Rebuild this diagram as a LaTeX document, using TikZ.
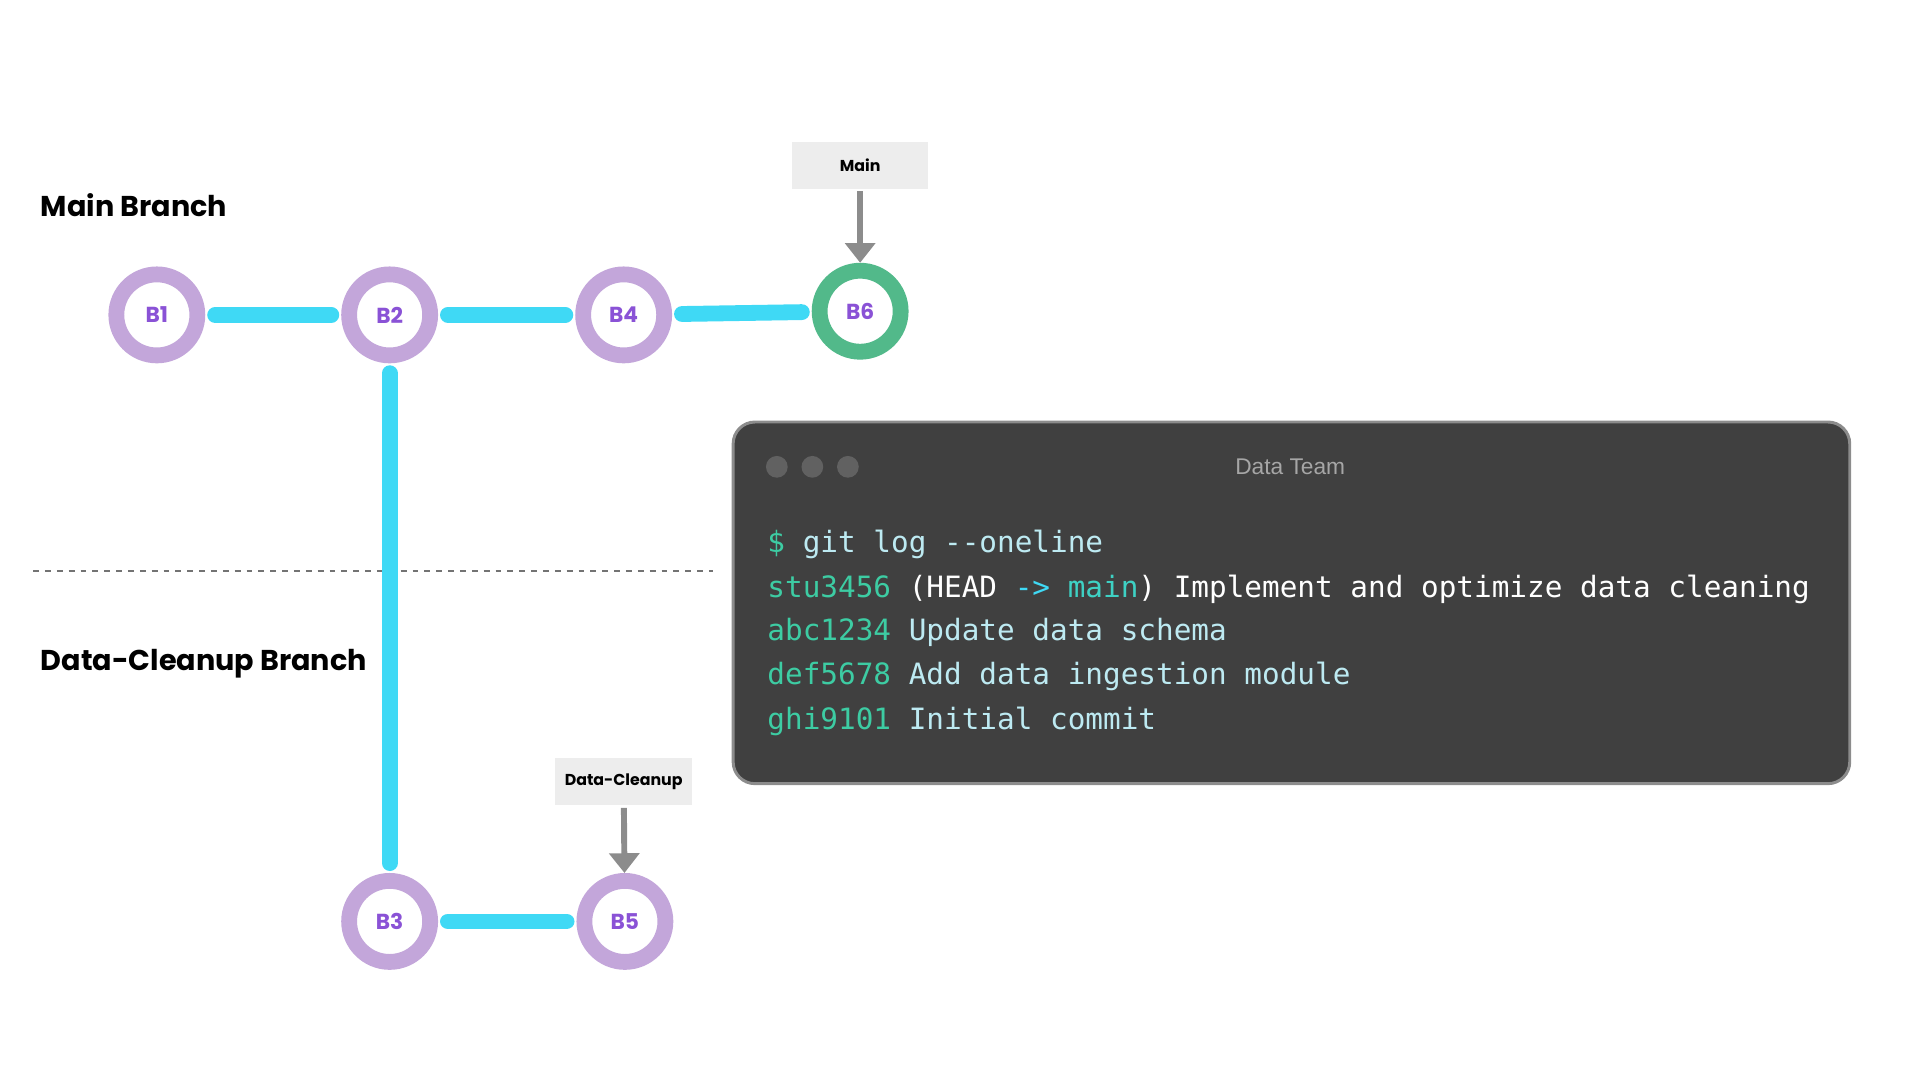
\documentclass[tikz,border=0pt]{standalone}
\usepackage{fontspec}
\setmainfont{Poppins}
\setsansfont{Liberation Sans}
\setmonofont{DejaVu Sans Mono}
\usetikzlibrary{arrows.meta}
\definecolor{ring}{HTML}{C3A6DA}
\definecolor{ringg}{HTML}{52B98A}
\definecolor{lbl}{HTML}{8A52D6}
\definecolor{cyanl}{HTML}{3FD9F5}
\definecolor{term}{HTML}{404040}
\definecolor{hash}{HTML}{3DCCA3}
\definecolor{txt}{HTML}{BDEAF2}
\begin{document}
\begin{tikzpicture}[x=0.62pt,y=-0.62pt,
  commit/.style={circle,draw=ring,line width=8pt,fill=white,minimum size=41pt,inner sep=0pt,font=\fontsize{11}{11}\selectfont\bfseries,text=lbl},
  link/.style={cyanl,line width=8pt,line cap=round,shorten <=5pt,shorten >=5pt},
  tag/.style={fill=black!7,minimum width=69pt,minimum height=24pt,font=\fontsize{8}{9}\selectfont\bfseries},
  ptr/.style={black!45,line width=3pt,-{Triangle[length=10pt,width=15pt]},shorten <=1pt},
  head/.style={anchor=base west,inner sep=0pt,font=\fontsize{14.5}{16}\selectfont\bfseries},
  tl/.style={anchor=base west,font=\fontsize{14.85}{16}\selectfont\ttfamily,text=txt,inner sep=0pt},
  dot/.style={circle,fill=black!62,minimum size=11pt,inner sep=0pt}]
\useasboundingbox (0,0) rectangle (1567,882);
\node[head] (h1) at (33,177) {Main Branch};
\node[head] (h2) at (33,547) {Data-Cleanup Branch};
\draw[black!55,dashed,line width=1pt] (27,466) -- (582,466);
\node[commit] (b1) at (128,257) {B1};
\node[commit] (b2) at (318,257) {B2};
\node[commit] (b4) at (509,257) {B4};
\node[commit,draw=ringg] (b6) at (702,254) {B6};
\node[commit] (b3) at (318,752) {B3};
\node[commit] (b5) at (510,752) {B5};
\draw[link] (b1) -- (b2);
\draw[link] (b2) -- (b4);
\draw[link] (b4) -- (b6);
\draw[link] (b2) -- (b3);
\draw[link] (b3) -- (b5);
\node[tag] (tm) at (702,135) {Main};
\node[tag] (td) at (509,638) {Data-Cleanup};
\draw[ptr] (tm) -- (b6);
\draw[ptr] (td) -- (b5);
\node[draw=black!45,line width=1.5pt,fill=term,rounded corners=11pt,minimum width=565pt,minimum height=183pt] (tb) at (1054,492) {};
\node[dot] (d1) at (634,381) {};
\node[dot] (d2) at (663,381) {};
\node[dot] (d3) at (692,381) {};
\node[font=\sffamily\fontsize{11.5}{12}\selectfont,text=black!35] (tt) at (1053,381) {Data Team};
\node[tl] (l1) at (626,451) {\textcolor{hash}{\$} git log --oneline};
\node[tl] (l2) at (626,488) {\textcolor{hash}{stu3456} \textcolor{white}{(HEAD} \textcolor{cyanl}{->} \textcolor{hash!60!cyanl}{main}\textcolor{white}{) Implement and optimize data cleaning}};
\node[tl] (l3) at (626,523) {\textcolor{hash}{abc1234} Update data schema};
\node[tl] (l4) at (626,559) {\textcolor{hash}{def5678} Add data ingestion module};
\node[tl] (l5) at (626,595) {\textcolor{hash}{ghi9101} Initial commit};
\end{tikzpicture}
\end{document}
